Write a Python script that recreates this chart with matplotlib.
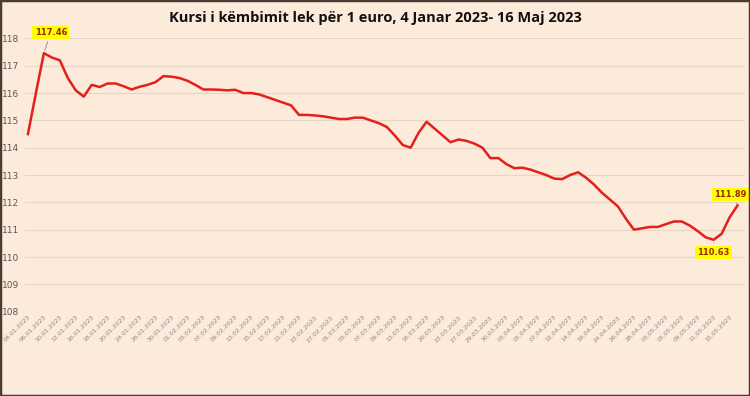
import matplotlib.pyplot as plt
from matplotlib.patches import Rectangle

# tick labels (every second trading day)
labels = ["04.01.2023", "06.01.2023", "10.01.2023", "12.01.2023", "16.01.2023",
          "18.01.2023", "20.01.2023", "24.01.2023", "26.01.2023", "30.01.2023",
          "01.02.2023", "03.02.2023", "07.02.2023", "09.02.2023", "13.02.2023",
          "15.02.2023", "17.02.2023", "21.02.2023", "23.02.2023", "27.02.2023",
          "01.03.2023", "03.03.2023", "07.03.2023", "09.03.2023", "13.03.2023",
          "16.03.2023", "20.03.2023", "23.03.2023", "27.03.2023", "29.03.2023",
          "30.03.2023", "03.04.2023", "05.04.2023", "07.04.2023", "12.04.2023",
          "14.04.2023", "19.04.2023", "24.04.2023", "26.04.2023", "28.04.2023",
          "03.05.2023", "05.05.2023", "09.05.2023", "11.05.2023", "15.05.2023"]

# lek per euro, one value per trading day
rate = [114.50, 116.00, 117.46, 117.30, 117.20, 116.55, 116.10, 115.87, 116.30, 116.22,
        116.35, 116.35, 116.25, 116.13, 116.23, 116.30, 116.40, 116.62, 116.60, 116.55,
        116.45, 116.30, 116.13, 116.13, 116.12, 116.10, 116.12, 116.00, 116.00, 115.95,
        115.85, 115.75, 115.65, 115.55, 115.20, 115.20, 115.18, 115.15, 115.10, 115.05,
        115.05, 115.10, 115.10, 115.00, 114.90, 114.76, 114.45, 114.10, 114.00, 114.55,
        114.95, 114.70, 114.45, 114.20, 114.30, 114.25, 114.15, 114.00, 113.62, 113.62,
        113.40, 113.25, 113.27, 113.20, 113.10, 113.00, 112.87, 112.85, 113.00, 113.10,
        112.90, 112.65, 112.35, 112.10, 111.85, 111.40, 111.00, 111.05, 111.10, 111.10,
        111.20, 111.30, 111.30, 111.15, 110.95, 110.72, 110.63, 110.85, 111.45, 111.89]

bg = "#FCEADB"
fig = plt.figure(figsize=(7.5, 3.96), dpi=100, facecolor=bg)
ax = fig.add_axes([0.033, 0.213, 0.96, 0.690])
ax.set_facecolor(bg)

x = list(range(len(rate)))
ax.plot(x, rate, color="#E3201B", lw=1.8, solid_joinstyle="round", zorder=3)

ax.set_ylim(108, 118)
ax.set_xlim(-0.4, len(rate) - 0.1)
ax.set_yticks(range(108, 119))
ax.grid(axis="y", color="#E6D6C7", lw=0.8)
ax.set_xticks(range(0, len(rate), 2))
ax.set_xticklabels(labels, rotation=45, ha="right", rotation_mode="anchor",
                   fontsize=4.5, color="#8A8A8A")
ax.tick_params(axis="y", labelsize=6.5, colors="#595959", length=0, pad=4)
ax.tick_params(axis="x", length=0, pad=2)
for s in ax.spines.values():
    s.set_visible(False)

fig.text(0.5, 0.955, "Kursi i këmbimit lek për 1 euro, 4 Janar 2023- 16 Maj 2023",
         ha="center", va="center", fontsize=10.5, fontweight="bold",
         family="Open Sans", color="#111111")

# value callouts
box = dict(boxstyle="square,pad=0.25", fc="#FFFF00", ec="none")
arrow = dict(arrowstyle="-", color="#8C8C8C", lw=0.6)
imax = rate.index(max(rate))
imin = rate.index(min(rate))
ilast = len(rate) - 1
ax.annotate(f"{rate[imax]:.2f}", (imax, rate[imax]), xytext=(5, 15),
            textcoords="offset points", ha="center", va="center", fontsize=6,
            fontweight="bold", color="#9C2A00", bbox=box, arrowprops=arrow)
ax.annotate(f"{rate[imin]:.2f}", (imin, rate[imin]), xytext=(0, -9),
            textcoords="offset points", ha="center", va="center", fontsize=6,
            fontweight="bold", color="#9C2A00", bbox=box, arrowprops=arrow)
ax.annotate(f"{rate[ilast]:.2f}", (ilast, rate[ilast]), xytext=(-5, 8),
            textcoords="offset points", ha="center", va="center", fontsize=6,
            fontweight="bold", color="#9C2A00", bbox=box, arrowprops=arrow)

# dark frame around the picture
fig.patches.append(Rectangle((0, 0), 1, 1, transform=fig.transFigure, fill=False,
                             ec="#4A3C32", lw=2.5))

fig.savefig("out.png", dpi=100, facecolor=bg)
